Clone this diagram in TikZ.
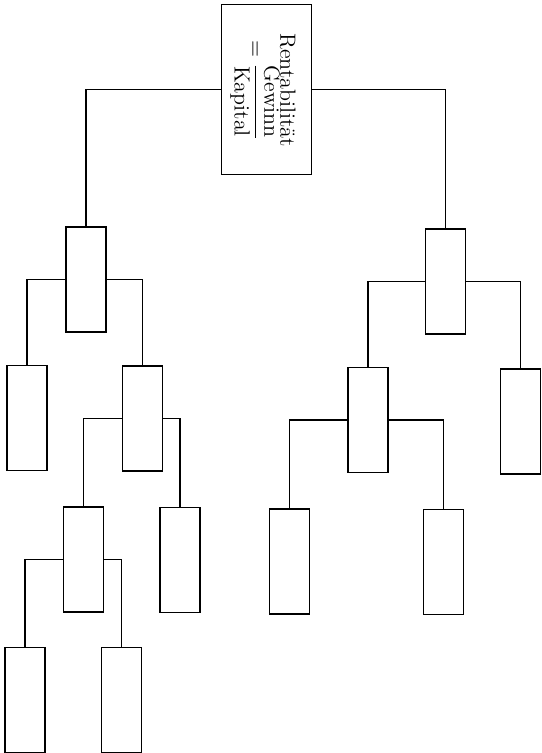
\documentclass[tikz,border=0pt]{standalone}
\usepackage{tikz}
\usetikzlibrary{positioning}

\begin{document}
\begin{tikzpicture}[
  x=0.5pt, y=-0.5pt,
  box/.style={rectangle, draw, line width=0.75pt, minimum width=20pt,
              minimum height=52.5pt, inner sep=0pt},
  rootbox/.style={rectangle, draw, line width=0.75pt, minimum width=45pt,
                  minimum height=85pt, inner sep=0pt},
  link/.style={line width=0.75pt}
]
  \useasboundingbox (0,0) rectangle (541,753);
  % Root: Rentabilitaet
  \node[rootbox] (root) at (266.5,89.5) {};
  \node[rotate=-90, align=center, font=\fontsize{11}{12.5}\selectfont,
        inner sep=0pt] (formula) at (263,90)
        {Rentabilität\\[-1pt] $\displaystyle=\frac{\mbox{Gewinn}}{\mbox{Kapital}}$};
  % Left branch
  \node[box] (l1) at (86,279.5) {};
  \node[box] (l2) at (27,418) {};
  \node[box] (l3) at (142.5,418.5) {};
  \node[box] (l4) at (83.5,559.5) {};
  \node[box] (l5) at (180,560) {};
  \node[box] (l6) at (25,700) {};
  \node[box] (l7) at (121.5,700) {};
  % Right branch
  \node[box] (r1) at (445.5,281.5) {};
  \node[box] (r2) at (368,420) {};
  \node[box] (r3) at (520.5,421.5) {};
  \node[box] (r4) at (289.5,561.5) {};
  \node[box] (r5) at (443.5,562) {};
  % Connectors
  \draw[link] (root.west) -| (l1.north);
  \draw[link] (root.east) -| (r1.north);
  \draw[link] (l1.west) -| (l2.north);
  \draw[link] (l1.east) -| (l3.north);
  \draw[link] (l3.west) -| (l4.north);
  \draw[link] (l3.east) -| (l5.north);
  \draw[link] (l4.west) -| (l6.north);
  \draw[link] (l4.east) -| (l7.north);
  \draw[link] (r1.west) -| (r2.north);
  \draw[link] (r1.east) -| (r3.north);
  \draw[link] (r2.west) -| (r4.north);
  \draw[link] (r2.east) -| (r5.north);
\end{tikzpicture}
\end{document}
